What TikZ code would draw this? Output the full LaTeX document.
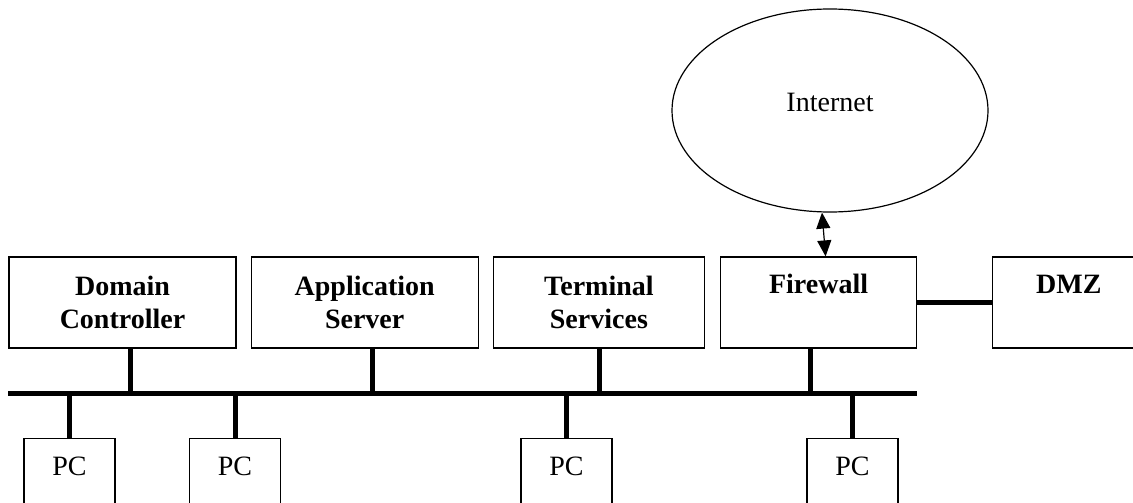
\documentclass[tikz,border=0pt]{standalone}
\usepackage{fontspec}
\setmainfont{Liberation Serif}
\usetikzlibrary{positioning,arrows.meta,shapes.geometric}
\tikzset{
  srv/.style={draw, line width=1.2pt, align=center, minimum height=91pt,
              inner sep=0pt, font=\bfseries\fontsize{28}{33}\selectfont},
  % one line of text sits at the top of the box, not in its middle
  oneline/.style={text height=19pt, text depth=38pt, inner ysep=17pt},
  pc/.style={draw, line width=1.2pt, minimum width=91pt, anchor=north,
             font=\fontsize{28}{33}\selectfont, text height=18.5pt,
             text depth=60pt, inner ysep=18.5pt},
  cloud/.style={draw, ellipse, line width=1.2pt, minimum width=316pt,
                minimum height=203pt, inner sep=0pt, text depth=15.5pt,
                font=\fontsize{28}{33}\selectfont},
  wire/.style={line width=5pt},
  both/.style={{Triangle[length=16pt,width=14pt]}-{Triangle[length=16pt,width=14pt]},
               line width=1.2pt},
}

\begin{document}
\begin{tikzpicture}[x=1pt, y=-1pt]
\useasboundingbox (0,0) rectangle (1133,503);

%% ── server row ────────────────────────────────────────────────────────────
\node[srv, minimum width=227pt] (dc) at (122.5,302.5) {Domain\\Controller};
\node[srv, minimum width=227pt, right=14pt of dc] (app) {Application\\Server};
\node[srv, minimum width=211pt, right=14pt of app] (ts) {Terminal\\Services};
\node[srv, oneline, minimum width=196pt, right=15pt of ts] (fw) {Firewall};
\node[srv, oneline, minimum width=152pt, right=75pt of fw] (dmz) {DMZ};

\node[cloud] (inet) at (830,110.5) {Internet};
\draw[both] ([xshift=-8pt]inet.south) -- ([xshift=7pt]fw.north);
\draw[wire] (fw.east) -- (dmz.west);

%% ── the bus and its taps ──────────────────────────────────────────────────
\coordinate (bus) at (0,393);
\draw[wire] (dc.west |- bus) -- (fw.east |- bus);
\foreach \n/\dx in {dc/7.5, app/7.5, ts/0.5, fw/-8}
  \draw[wire] ([xshift=\dx pt]\n.south) coordinate (tap) -- (tap |- bus);

%% ── workstations ──────────────────────────────────────────────────────────
\foreach \x [count=\i] in {69.5, 235, 566.5, 852.5} {
  \node[pc] (pc\i) at (\x,438) {PC};
  \draw[wire] (pc\i.north) -- (pc\i.north |- bus);
}

\end{tikzpicture}
\end{document}
